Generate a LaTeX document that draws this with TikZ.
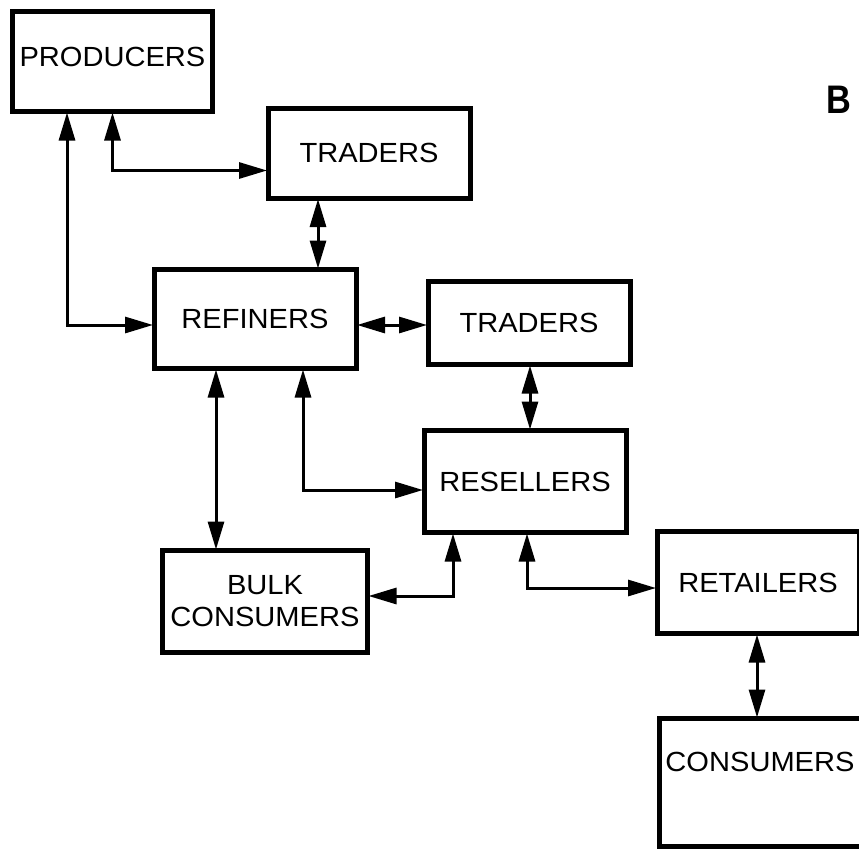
\documentclass[tikz,border=0pt]{standalone}
\usepackage{fontspec}
\setmainfont{Liberation Sans}[FakeStretch=1.05]
\usetikzlibrary{arrows.meta}

\tikzset{
  box/.style={draw, line width=5bp, minimum width=202bp, inner sep=0pt, outer sep=1bp,
    font=\fontsize{27.8}{32}\selectfont, align=center},
  link/.style={line width=3bp,
    {Triangle[length=28bp,width=16bp]}-{Triangle[length=28bp,width=16bp]}}
}

\begin{document}
\begin{tikzpicture}[x=1bp,y=-1bp]
                \useasboundingbox (0,0) rectangle (859,849);
                \clip (0,0) rectangle (859,849);

                \node[box, minimum width=199bp, minimum height=100bp, text depth=10bp] (prod) at (112.5,61.5) {PRODUCERS};
                \node[box, minimum height=90bp] (tradA) at (369,153) {TRADERS};
                \node[box, minimum height=99bp] (ref) at (255,319) {REFINERS};
                \node[box, minimum height=83bp] (tradB) at (529,323) {TRADERS};
                \node[box, minimum height=102bp] (res) at (525,481.5) {RESELLERS};
                \node[box, minimum width=205bp, minimum height=102bp] (bulk) at (265,601.5) {BULK\\CONSUMERS};
                \node[box, minimum height=102bp] (ret) at (758,582.5) {RETAILERS};
                \node[box, minimum height=128bp, text depth=42bp] (cons) at (760,782.5) {CONSUMERS};

                \node[font=\fontsize{40}{40}\selectfont\bfseries] (lbl) at (839,100) {\scalebox{0.82}[1]{B}};

                \draw[link] ([xshift=-45.5bp]prod.south) |- ([yshift=-6bp]ref.west);
                \draw[link] (prod.south) |- ([yshift=-17.5bp]tradA.west);
                \draw[link] ([xshift=-51bp]tradA.south) -- ([xshift=-51bp]tradA.south |- ref.north);
                \draw[link] ([yshift=-6bp]ref.east) -- ([yshift=-6bp]ref.east -| tradB.west);
                \draw[link] ([xshift=1bp]tradB.south) -- ([xshift=1bp]tradB.south |- res.north);
                \draw[link] ([xshift=-39bp]ref.south) -- ([xshift=-39bp]ref.south |- bulk.north);
                \draw[link] ([xshift=48bp]ref.south) |- ([yshift=-8.5bp]res.west);
                \draw[link] ([xshift=-72bp]res.south) |- ([yshift=5.5bp]bulk.east);
                \draw[link] ([xshift=2bp]res.south) |- ([yshift=-5.5bp]ret.west);
                \draw[link] ([xshift=-1bp]ret.south) -- ([xshift=-1bp]ret.south |- cons.north);

        \end{tikzpicture}
\end{document}
